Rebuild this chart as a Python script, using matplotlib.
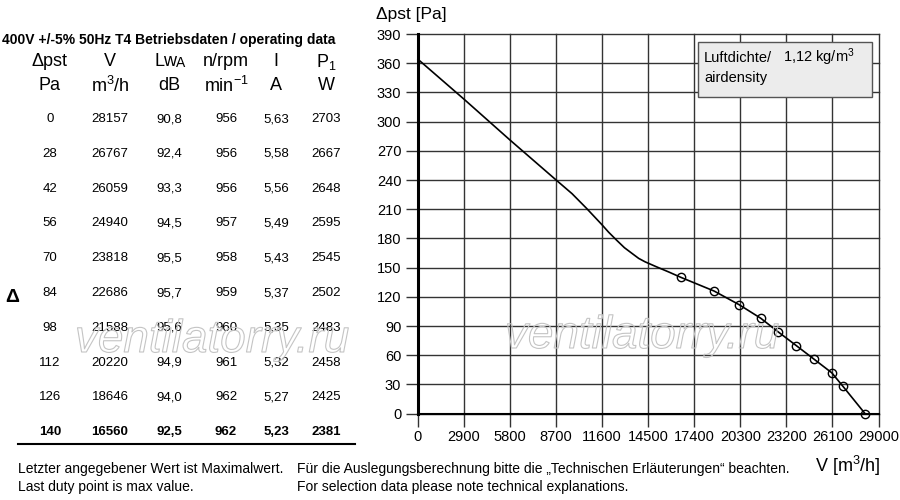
import matplotlib
matplotlib.use("Agg")
import matplotlib.pyplot as plt
import matplotlib.patheffects as pe
from matplotlib.patches import Rectangle
from matplotlib.lines import Line2D

plt.rcParams['font.family'] = ['Liberation Sans', 'DejaVu Sans']
plt.rcParams['mathtext.fontset'] = 'custom'
plt.rcParams['mathtext.rm'] = 'Liberation Sans'
plt.rcParams['mathtext.it'] = 'Liberation Sans:italic'

# operating data (table)
dp = [0, 28, 42, 56, 70, 84, 98, 112, 126, 140]
flow = [28157, 26767, 26059, 24940, 23818, 22686, 21588, 20220, 18646, 16560]
lwa = [90.8, 92.4, 93.3, 94.5, 95.5, 95.7, 95.6, 94.9, 94.0, 92.5]
rpm = [956, 956, 956, 957, 958, 959, 960, 961, 962, 962]
current = [5.63, 5.58, 5.56, 5.49, 5.43, 5.37, 5.35, 5.32, 5.27, 5.23]
power = [2703, 2667, 2648, 2595, 2545, 2502, 2483, 2458, 2425, 2381]

# upper part of the fan curve (before the first duty point)
curve_v = [0, 2900, 5800, 8700, 9700, 10610, 11590, 12000, 12490, 13000,
           13530, 13900, 14300, 14650, 15000, 15800]
curve_p = [364, 323, 281, 240, 226, 211, 194, 186.5, 178.5, 170.5,
           164, 159.5, 156, 153.5, 151, 145.5]

xticks = list(range(0, 29001, 2900))
yticks = list(range(0, 391, 30))

W, H = 900, 500
fig = plt.figure(figsize=(9, 5), dpi=100)


def ftext(x, y, s, **kw):
    # place text using pixel coords (origin top-left)
    kw.setdefault('va', 'center')
    return fig.text(x / W, 1 - y / H, s, **kw)


# ---- chart ----
ax = fig.add_axes([418 / W, 1 - 413.7 / H, 460.5 / W, 379.7 / H])
ax.set_xlim(0, 29000)
ax.set_ylim(0, 390)
ax.set_xticks(xticks)
ax.set_yticks(yticks)
ax.set_xticklabels([str(v) for v in xticks], fontsize=10.5)
ax.set_yticklabels([str(v) for v in yticks], fontsize=10.5)
for s in ax.spines.values():
    s.set_visible(False)
ax.grid(True, color='#333333', linewidth=1.0)
for gl in ax.get_xgridlines() + ax.get_ygridlines():
    gl.set_clip_on(False)
ax.tick_params(direction='out', length=9, width=1.0, color='#333333', pad=3)
ax.axvline(0, color='black', linewidth=2.2, clip_on=False)
ax.axhline(0, color='black', linewidth=1.5, clip_on=False)

pv = curve_v + flow[::-1]
pp = curve_p + dp[::-1]
ax.plot(pv, pp, color='black', linewidth=1.2, clip_on=False, zorder=5)
ax.plot(flow, dp, linestyle='none', marker='o', markersize=6, mfc='none',
        mec='black', mew=1.0, clip_on=False, zorder=6)

ftext(376, 14, "\u0394pst [Pa]", fontsize=12.5)
ftext(880, 466, "V [m$^3$/h]", fontsize=13, ha='right')

# air density box
fig.patches.append(Rectangle((698 / W, 1 - 97 / H), 174 / W, 55 / H,
                             transform=fig.transFigure, facecolor='#ececec',
                             edgecolor='#555555', linewidth=1.0, zorder=3))
ftext(704, 58, "Luftdichte/", fontsize=10.5, zorder=4)
ftext(783, 57, "1,12 kg/m$^3$", fontsize=10.5, zorder=4)
ftext(704, 78, "airdensity", fontsize=10.5, zorder=4)

# ---- table ----
ftext(2, 40, "400V +/-5% 50Hz T4 Betriebsdaten / operating data",
      fontsize=10, fontweight='bold')
cols = [50, 110, 169, 226, 276, 326]
ftext(cols[0], 62, "\u0394pst", fontsize=13, ha='center')
ftext(cols[1], 62, "V", fontsize=13, ha='center')
ftext(cols[2] - 3, 62, "Lw", fontsize=13, ha='center')
ftext(cols[2] + 12, 63, "A", fontsize=10, ha='center')
ftext(cols[3], 62, "n/rpm", fontsize=13, ha='center')
ftext(cols[4], 62, "I", fontsize=13, ha='center')
ftext(cols[5], 62, "P$_1$", fontsize=13, ha='center')
ftext(cols[0], 86, "Pa", fontsize=13, ha='center')
ftext(cols[1], 86, "m$^3$/h", fontsize=13, ha='center')
ftext(cols[2], 86, "dB", fontsize=13, ha='center')
ftext(cols[3], 86, "min$^{-1}$", fontsize=13, ha='center')
ftext(cols[4], 86, "A", fontsize=13, ha='center')
ftext(cols[5], 86, "W", fontsize=13, ha='center')

for i in range(len(dp)):
    y = 119 + 34.8 * i
    w = 'bold' if i == len(dp) - 1 else 'normal'
    row = [str(dp[i]), str(flow[i]), f"{lwa[i]:.1f}".replace('.', ','),
           str(rpm[i]), f"{current[i]:.2f}".replace('.', ','), str(power[i])]
    for cx, s in zip(cols, row):
        ftext(cx, y, s, fontsize=9.5, ha='center', fontweight=w)

ftext(12, 297, "\u0394", fontsize=14, fontweight='bold', ha='center')
fig.lines.append(Line2D([18 / W, 355 / W], [1 - 444 / H, 1 - 444 / H],
                        transform=fig.transFigure, color='black', linewidth=1.5))

# ---- footer ----
ftext(18, 469, "Letzter angegebener Wert ist Maximalwert.", fontsize=10)
ftext(18, 487, "Last duty point is max value.", fontsize=10)
ftext(297, 469, "F\u00fcr die Auslegungsberechnung bitte die \u201eTechnischen Erl\u00e4uterungen\u201c beachten.", fontsize=10)
ftext(297, 487, "For selection data please note technical explanations.", fontsize=10)

# ---- watermark ----
for wx, wy in [(75, 340), (505, 336)]:
    ftext(wx, wy, "ventilatorry.ru", fontsize=33, style='italic', color='none',
          zorder=10, path_effects=[pe.Stroke(linewidth=0.8, foreground='#c4c4c4')])

fig.savefig("out.png", dpi=100)
